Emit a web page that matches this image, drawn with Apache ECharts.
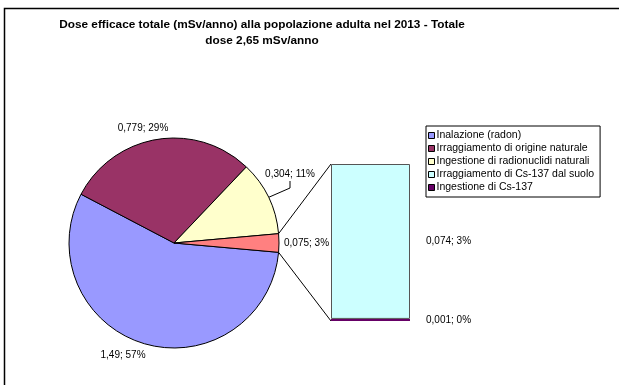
<!DOCTYPE html>
<html><head><meta charset="utf-8">
<script src="https://cdn.jsdelivr.net/npm/echarts@6/dist/echarts.min.js"></script>
<style>html,body{margin:0;padding:0;background:#fff}#c{width:619px;height:385px}</style>
</head><body><div id="c"></div>
<script>
const titleText = 'Dose efficace totale (mSv/anno) alla popolazione adulta nel 2013 - Totale\ndose 2,65 mSv/anno';
const pieNames = ['Inalazione (radon)', 'Irraggiamento di origine naturale', 'Ingestione di radionuclidi naturali', 'Altro'];
const pieValues = [1.49, 0.779, 0.304, 0.075];
const piePercents = [57, 29, 11, 3];
const barNames = ['Irraggiamento di Cs-137 dal suolo', 'Ingestione di Cs-137'];
const barValues = [0.074, 0.001];
const barPercents = [3, 0];

const pieColors = ['#9999FF', '#993366', '#FFFFCC', '#FF8080'];
const barColors = ['#CCFFFF', '#660066'];
const FONT = '"Liberation Sans", Arial, sans-serif';
const fmt = v => String(v).replace('.', ',');

const CX = 174, CY = 243, R = 105;
const GRID = {left: 331, top: 164, width: 79, height: 157};

const pieTotal = pieValues.reduce((a, b) => a + b, 0);
const otherTotal = barValues.reduce((a, b) => a + b, 0);
const half = pieValues[pieValues.length - 1] / pieTotal * 180;
const startAngle = -half;

function sliceMid(i) {
  let cum = 0;
  for (let k = 0; k < i; k++) cum += pieValues[k];
  return startAngle - (cum + pieValues[i] / 2) / pieTotal * 360;
}
function edge(aDeg) {
  const a = aDeg * Math.PI / 180;
  return [CX + R * Math.cos(a), CY - R * Math.sin(a)];
}

const labelPlace = [
  {x: 123, y: 355, align: 'center'},
  {x: 143, y: 128, align: 'center'},
  {x: 290, y: 174, align: 'center'},
  {x: 284, y: 243, align: 'left'}
];

const chart = echarts.init(document.getElementById('c'));
chart.setOption({
  animation: false,
  textStyle: {fontFamily: FONT},
  legend: {
    orient: 'vertical', left: 426, top: 126,
    data: pieNames.slice(0, 3).concat(barNames),
    itemWidth: 6, itemHeight: 6, itemGap: 2,
    icon: 'rect',
    padding: [4, 6, 4, 2],
    borderColor: '#000', borderWidth: 1,
    itemStyle: {borderColor: '#000', borderWidth: 1},
    textStyle: {fontSize: 10.5, color: '#000', fontFamily: FONT, padding: [0, 0, 0, -3]}
  },
  grid: GRID,
  xAxis: {type: 'category', data: [''], show: false},
  yAxis: {type: 'value', min: 0, max: otherTotal, show: false},
  series: [
    {
      type: 'pie', center: [CX, CY], radius: R, startAngle: startAngle, clockwise: true,
      avoidLabelOverlap: false,
      data: pieNames.map((n, i) => ({
        name: n, value: pieValues[i],
        itemStyle: {color: pieColors[i]}
      })),
      itemStyle: {borderColor: '#000', borderWidth: 1},
      label: {
        show: true, position: 'outside', color: '#000', fontSize: 10, fontFamily: FONT,
        formatter: p => fmt(pieValues[p.dataIndex]) + '; ' + piePercents[p.dataIndex] + '%'
      },
      labelLine: {show: false},
      labelLayout: function (p) {
        const pl = labelPlace[p.dataIndex];
        return {x: pl.x, y: pl.y, align: pl.align, verticalAlign: 'middle'};
      },
      emphasis: {disabled: true}
    },
    {
      type: 'bar', name: barNames[1], stack: 'cs', barWidth: '100%',
      data: [barValues[1]],
      itemStyle: {color: barColors[1]},
      label: {show: true, position: 'right', distance: 16, color: '#000', fontSize: 10, fontFamily: FONT,
        formatter: () => fmt(barValues[1]) + '; ' + barPercents[1] + '%'}
    },
    {
      type: 'bar', name: barNames[0], stack: 'cs', barWidth: '100%',
      data: [barValues[0]],
      itemStyle: {color: barColors[0], borderColor: '#555', borderWidth: 1},
      label: {show: true, position: 'right', distance: 16, color: '#000', fontSize: 10, fontFamily: FONT,
        formatter: () => fmt(barValues[0]) + '; ' + barPercents[0] + '%'}
    }
  ]
});

const topPx = chart.convertToPixel({xAxisIndex: 0, yAxisIndex: 0}, [0, otherTotal]);
const botPx = chart.convertToPixel({xAxisIndex: 0, yAxisIndex: 0}, [0, 0]);
const barLeft = topPx[0] - GRID.width / 2;
const eTop = edge(half), eBot = edge(-half);
const eLead = edge(sliceMid(2));
const lp = labelPlace[2];

chart.setOption({
  graphic: [
    {type: 'rect', silent: true, shape: {x: 4.5, y: 8.5, width: 640, height: 400},
      style: {fill: null, stroke: '#000', lineWidth: 1.5}},
    {type: 'text', silent: true, x: 262, y: 17,
      style: {text: titleText, align: 'center', verticalAlign: 'top', fill: '#000',
        font: 'bold 11.8px ' + FONT, lineHeight: 16}},
    {type: 'line', silent: true, shape: {x1: eTop[0], y1: eTop[1], x2: barLeft, y2: topPx[1]},
      style: {stroke: '#000', lineWidth: 1}},
    {type: 'line', silent: true, shape: {x1: eBot[0], y1: eBot[1], x2: barLeft, y2: botPx[1]},
      style: {stroke: '#000', lineWidth: 1}},
    {type: 'polyline', silent: true,
      shape: {points: [eLead, [lp.x, lp.y + 14], [lp.x, lp.y + 7]]},
      style: {stroke: '#000', lineWidth: 1, fill: null}}
  ]
});
</script>
</body></html>
